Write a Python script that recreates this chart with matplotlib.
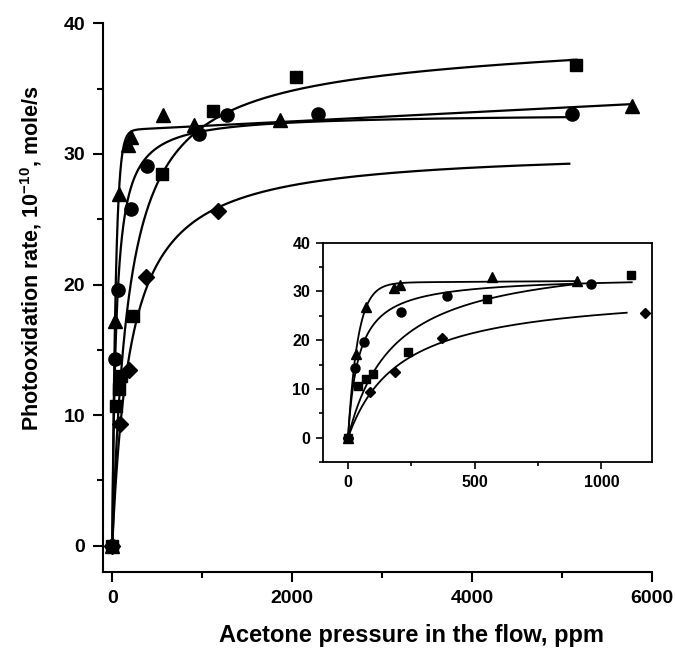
import numpy as np
import matplotlib
matplotlib.use("Agg")
import matplotlib.pyplot as plt
from matplotlib.ticker import MultipleLocator

plt.rcParams["font.family"] = ["Liberation Sans", "DejaVu Sans"]
plt.rcParams["font.weight"] = "bold"
plt.rcParams["mathtext.fontset"] = "custom"
plt.rcParams["mathtext.rm"] = "Liberation Sans:bold"
plt.rcParams["mathtext.bf"] = "Liberation Sans:bold"

# acetone pressure (ppm) and photooxidation rate (1e-10 mole/s)
sq_x = [0, 38, 73, 99, 235, 550, 1117, 2041, 5160]
sq_y = [0, 10.7, 12.0, 13.0, 17.6, 28.5, 33.3, 35.9, 36.8]
tri_x = [0, 30, 72, 180, 205, 568, 903, 1863, 5778]
tri_y = [0, 17.2, 26.9, 30.7, 31.3, 33.0, 32.2, 32.6, 33.7]
cir_x = [0, 28, 64, 208, 390, 960, 1271, 2282, 5111]
cir_y = [0, 14.3, 19.6, 25.8, 29.1, 31.5, 33.0, 33.1, 33.1]
dia_x = [0, 88, 185, 372, 1171]
dia_y = [0, 9.35, 13.45, 20.55, 25.6]

# where each fitted curve stops (main plot / inset)
main_end = {"s": 5160, "^": 5778, "o": 5111, "D": 5080}
inset_end = {"s": 905, "^": 900, "o": 1120, "D": 1100}

# fit model per series: saturation shape, and whether a linear term is allowed
shape = {"s": "langmuir", "^": "exp", "o": "langmuir", "D": "langmuir"}
linear = {"s": True, "^": True, "o": False, "D": False}

series = [("s", sq_x, sq_y), ("^", tri_x, tri_y), ("o", cir_x, cir_y), ("D", dia_x, dia_y)]


def sat(t, K, kind):
    if kind == "exp":
        return 1 - np.exp(-t / K)
    return t / (K + t)


def fit_curve(x, y, kind, lin):
    # y = a*sat(x; K) + c*x, c >= 0; grid over K, least squares for a, c
    x = np.asarray(x, float)
    y = np.asarray(y, float)
    best = None
    for K in np.linspace(2, 800, 1600):
        f = sat(x, K, kind)
        coef = np.array([np.dot(f, y) / np.dot(f, f), 0.0])
        if lin:
            c2 = np.linalg.lstsq(np.column_stack([f, x]), y, rcond=None)[0]
            if c2[1] >= 0:
                coef = c2
        r = np.sum((coef[0] * f + coef[1] * x - y) ** 2)
        if best is None or r < best[0]:
            best = (r, K, coef)
    _, K, (a, c) = best
    return lambda t: a * sat(t, K, kind) + c * t


fits = {m: fit_curve(x, y, shape[m], linear[m]) for m, x, y in series}

fig = plt.figure(figsize=(6.75, 6.48), dpi=100)
ax = fig.add_axes([0.153, 0.1178, 0.813, 0.846])
ins = fig.add_axes([0.478, 0.2866, 0.488, 0.339])

msize = {"s": 8.5, "^": 10.5, "o": 9.5, "D": 8}
isize = {"s": 5.5, "^": 7, "o": 6.5, "D": 5.5}

for m, x, y in series:
    t = np.concatenate([[0], np.geomspace(0.5, main_end[m], 500)])
    ax.plot(t, fits[m](t), color="black", lw=1.6)
    ax.plot(x, y, linestyle="none", marker=m, color="black", ms=msize[m])
    t = np.concatenate([[0], np.geomspace(0.5, inset_end[m], 500)])
    ins.plot(t, fits[m](t), color="black", lw=1.3)
    ins.plot(x, y, linestyle="none", marker=m, color="black", ms=isize[m])

ax.set_xlim(-100, 6000)
ax.set_ylim(-2, 40)
ax.spines["top"].set_visible(False)
ax.spines["right"].set_visible(False)
for s in ["left", "bottom"]:
    ax.spines[s].set_linewidth(1.5)
ax.xaxis.set_major_locator(MultipleLocator(2000))
ax.xaxis.set_minor_locator(MultipleLocator(1000))
ax.yaxis.set_major_locator(MultipleLocator(10))
ax.yaxis.set_minor_locator(MultipleLocator(5))
ax.tick_params(which="major", direction="out", length=7, width=1.5, labelsize=14, pad=6)
ax.tick_params(which="minor", direction="out", length=4, width=1.5)
ax.set_xlabel("Acetone pressure in the flow, ppm", fontsize=17, fontweight="bold")
ax.xaxis.set_label_coords(0.561, -0.095)
ax.set_ylabel("Photooxidation rate, 10$^{\\mathbf{-10}}$, mole/s", fontsize=15.5,
              fontweight="bold")
ax.yaxis.set_label_coords(-0.108, 0.571)

ins.set_xlim(-100, 1200)
ins.set_ylim(-5, 40)
for s in ins.spines.values():
    s.set_linewidth(1.3)
ins.xaxis.set_major_locator(MultipleLocator(500))
ins.xaxis.set_minor_locator(MultipleLocator(250))
ins.yaxis.set_major_locator(MultipleLocator(10))
ins.yaxis.set_minor_locator(MultipleLocator(5))
ins.tick_params(which="major", direction="out", length=5, width=1.2, labelsize=11.5, pad=4)
ins.tick_params(which="minor", direction="out", length=3, width=1.2)

fig.savefig("out.png", dpi=100)
